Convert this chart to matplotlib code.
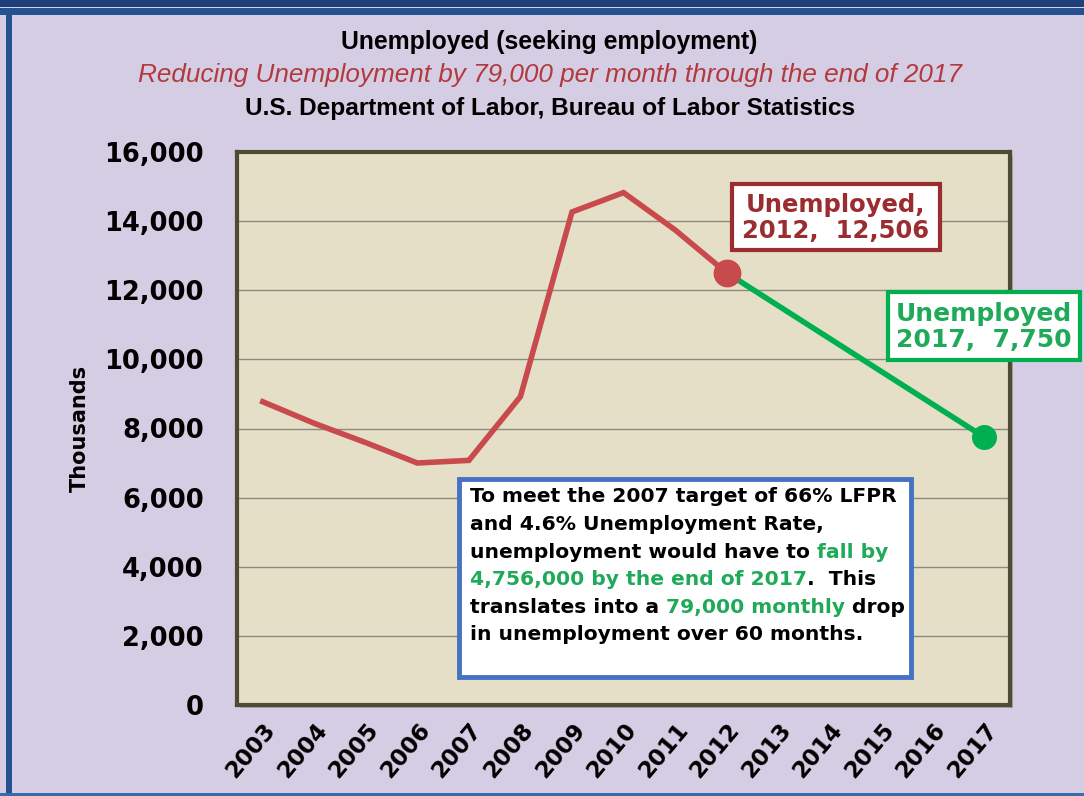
import matplotlib
matplotlib.use("Agg")
import matplotlib.pyplot as plt
from matplotlib.patches import Rectangle
import numpy as np

# data (thousands)
years = ['2003', '2004', '2005', '2006', '2007', '2008', '2009', '2010',
         '2011', '2012', '2013', '2014', '2015', '2016', '2017']
actual_years = ['2003', '2004', '2005', '2006', '2007', '2008', '2009', '2010', '2011', '2012']
actual = [8774, 8149, 7591, 7001, 7078, 8924, 14265, 14825, 13747, 12506]
proj_years = ['2012', '2017']
proj = [12506, 7750]

W, H = 1084, 796
bg = '#D5CDE3'
plotbg = '#E4DFC6'
red = '#C84A4D'
darkred = '#9B2D30'
green = '#00B050'
txtgreen = '#1FAA59'

fig = plt.figure(figsize=(W / 100, H / 100), dpi=100, facecolor=bg)

# outer frame
fig.patches.append(Rectangle((0, 1 - 7 / H), 1, 7 / H, transform=fig.transFigure,
                             facecolor='#1F3F7A', edgecolor='none'))
fig.patches.append(Rectangle((0, 1 - 15 / H), 1, 7 / H, transform=fig.transFigure,
                             facecolor='#24518F', edgecolor='none'))
fig.patches.append(Rectangle((6 / W, 0), 6 / W, 1 - 15 / H, transform=fig.transFigure,
                             facecolor='#24518F', edgecolor='none'))
fig.patches.append(Rectangle((0, 0), 1, 3 / H, transform=fig.transFigure,
                             facecolor='#3A6AAE', edgecolor='none'))

# shadow behind plot area
fig.patches.append(Rectangle((240 / W, 1 - 708 / H), 773 / W, 553 / H, transform=fig.transFigure,
                             facecolor='#A9A4B0', edgecolor='none', zorder=-1))

ax = fig.add_axes([237 / W, 1 - 705 / H, 773 / W, 553 / H])
ax.set_facecolor(plotbg)
ax.set_ylim(0, 16000)
ax.set_xlim(-0.5, len(years) - 0.5)

xpos = {y: i for i, y in enumerate(years)}
xa = [xpos[y] for y in actual_years]
xp = [xpos[y] for y in proj_years]

ax.set_yticks(np.arange(0, 16001, 2000))
ax.grid(axis='y', color='#8C8A80', linewidth=1)
ax.set_axisbelow(True)
ax.plot(xp, proj, color=green, linewidth=4, solid_capstyle='round', zorder=3)
ax.plot(xa, actual, color=red, linewidth=4, solid_joinstyle='miter', zorder=4)
ax.plot(xp[0], proj[0], 'o', color=red, markersize=19, zorder=5)
ax.plot(xp[1], proj[1], 'o', color=green, markersize=17, zorder=5)

ax.set_xticks(range(len(years)))
ax.set_xticklabels(years, rotation=50, ha='right', va='top', rotation_mode='anchor',
                   fontsize=16.5, fontweight='heavy')
ax.set_yticklabels([f'{v:,}' for v in range(0, 16001, 2000)], fontsize=18.5, fontweight='heavy')
ax.tick_params(axis='both', length=0)
ax.tick_params(axis='y', pad=24)
ax.tick_params(axis='x', pad=10)
ax.set_ylabel('Thousands', fontsize=15, fontweight='bold', labelpad=10)
for s in ax.spines.values():
    s.set_color('#4E4A34')
    s.set_linewidth(3)

# titles
tfont = ['Liberation Sans', 'DejaVu Sans']
fig.text(0.507, 1 - 42 / H, 'Unemployed (seeking employment)', ha='center', va='center',
         fontsize=17.8, family=tfont, fontweight='bold', color='black')
fig.text(0.507, 1 - 75 / H, 'Reducing Unemployment by 79,000 per month through the end of 2017',
         ha='center', va='center', fontsize=18.8, family=tfont, style='italic', color='#B23A3E')
fig.text(0.507, 1 - 109 / H, 'U.S. Department of Labor, Bureau of Labor Statistics',
         ha='center', va='center', fontsize=17.6, family=tfont, fontweight='bold', color='black')

# callout boxes
def box(x0, y0, x1, y1, ec, lw):
    fig.patches.append(Rectangle((x0 / W, 1 - y1 / H), (x1 - x0) / W, (y1 - y0) / H,
                                 transform=fig.transFigure, facecolor='white',
                                 edgecolor=ec, linewidth=lw, zorder=10))

box(732, 184, 940, 250, darkred, 3)
fig.text(836 / W, 1 - 218 / H, 'Unemployed,\n2012,  12,506', ha='center', va='center',
         fontsize=17.5, fontweight='bold', color=darkred, linespacing=1.1, zorder=11)
box(888, 292, 1080, 360, green, 3)
fig.text(984 / W, 1 - 327 / H, 'Unemployed\n2017,  7,750', ha='center', va='center',
         fontsize=18, fontweight='bold', color=txtgreen, linespacing=1.1, zorder=11)

box(459, 479, 911, 677, '#4472C4', 3.5)

lines = [
    [('To meet the 2007 target of 66% LFPR', 'black')],
    [('and 4.6% Unemployment Rate,', 'black')],
    [('unemployment would have to ', 'black'), ('fall by', txtgreen)],
    [('4,756,000 by the end of 2017', txtgreen), ('.  This', 'black')],
    [('translates into a ', 'black'), ('79,000 monthly', txtgreen), (' drop', 'black')],
    [('in unemployment over 60 months.', 'black')],
]
tprops = dict(fontsize=14.6, fontweight='bold')
renderer = fig.canvas.get_renderer()


def width(s):
    t = fig.text(0, 0, s + 'x', **tprops)
    w1 = t.get_window_extent(renderer).width
    t.set_text('x')
    w2 = t.get_window_extent(renderer).width
    t.remove()
    return w1 - w2


for i, parts in enumerate(lines):
    ypix = 497 + i * 27.6
    prefix = ''
    for s, c in parts:
        xoff = width(prefix) if prefix else 0
        fig.text((470 + xoff) / W, 1 - ypix / H, s, color=c, va='center', ha='left',
                 zorder=11, **tprops)
        prefix += s

fig.savefig('out.png', dpi=100, facecolor=bg)
